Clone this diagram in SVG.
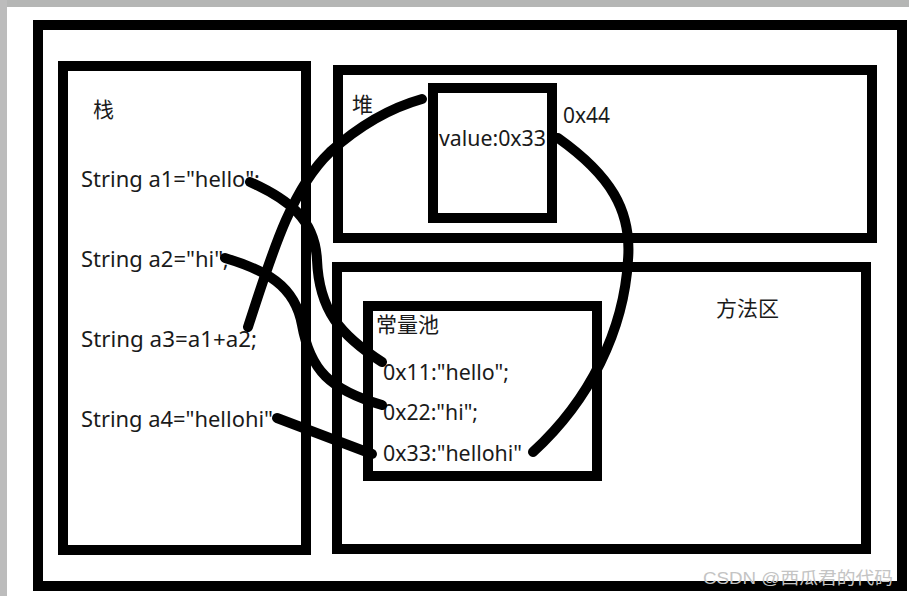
<svg xmlns="http://www.w3.org/2000/svg" width="909" height="596" viewBox="0 0 909 596">
<style>
.box{fill:none;stroke:#000;stroke-width:10}
.t{font-family:"Noto Sans","Liberation Sans","Noto Sans CJK SC",sans-serif;font-size:22px;fill:#1a1a1a}
.c{font-family:"Noto Sans CJK SC","Noto Sans",sans-serif;font-size:21px;fill:#1a1a1a}
.ln{fill:none;stroke:#000;stroke-width:10;stroke-linecap:round;stroke-linejoin:round}
.wm{font-family:"Liberation Sans","Noto Sans CJK SC",sans-serif;font-size:17px;fill:#c4c4c4}
</style>
<rect x="0" y="0" width="909" height="596" fill="#fff"/>
<rect x="0" y="0" width="909" height="7" fill="#b5b6b5"/>
<rect x="0" y="0" width="7" height="596" fill="#bcbcbc"/>
<g id="outer"><rect class="box" x="38" y="25" width="864" height="561"/></g>
<g id="stack">
<rect class="box" x="63" y="66" width="243" height="484"/>
<text class="c" x="93" y="117">栈</text>
<text class="t" x="81" y="187" textLength="179" lengthAdjust="spacingAndGlyphs">String a1="hello";</text>
<text class="t" x="81" y="267" textLength="148" lengthAdjust="spacingAndGlyphs">String a2="hi";</text>
<text class="t" x="81" y="347" textLength="176" lengthAdjust="spacingAndGlyphs">String a3=a1+a2;</text>
<text class="t" x="81" y="427" textLength="192" lengthAdjust="spacingAndGlyphs">String a4="hellohi"</text>
</g>
<g id="heap">
<rect class="box" x="338" y="70" width="534" height="168"/>
<text class="c" x="352" y="112">堆</text>
</g>
<g id="object">
<rect class="box" x="433" y="88" width="119" height="130"/>
<text class="t" x="439" y="146" textLength="107" lengthAdjust="spacingAndGlyphs">value:0x33</text>
<text class="t" x="563" y="123" textLength="47" lengthAdjust="spacingAndGlyphs">0x44</text>
</g>
<g id="method-area">
<rect class="box" x="337" y="267" width="529" height="282"/>
<text class="c" x="716" y="316">方法区</text>
</g>
<g id="constant-pool">
<rect class="box" x="368" y="306" width="229" height="170"/>
<text class="c" x="376" y="332">常量池</text>
<text class="t" x="383" y="380" textLength="126" lengthAdjust="spacingAndGlyphs">0x11:"hello";</text>
<text class="t" x="383" y="420" textLength="95" lengthAdjust="spacingAndGlyphs">0x22:"hi";</text>
<text class="t" x="383" y="461" textLength="139" lengthAdjust="spacingAndGlyphs">0x33:"hellohi"</text>
</g>
<g id="connectors">
<path class="ln" d="M250,182 C290,200 315,220 317,260 C319,310 340,335 382,362"/>
<path class="ln" d="M225,258 C265,270 295,285 302,325 C310,370 330,390 382,405"/>
<path class="ln" d="M248,327 C270,260 290,190 330,152 C360,125 390,108 422,99"/>
<path class="ln" d="M277,418 L372,454"/>
<path class="ln" d="M558,138 C610,175 632,210 628,260 C624,330 590,400 533,452"/>
</g>
<text class="wm" x="703" y="584" textLength="190" lengthAdjust="spacingAndGlyphs">CSDN @西瓜君的代码</text>
</svg>
